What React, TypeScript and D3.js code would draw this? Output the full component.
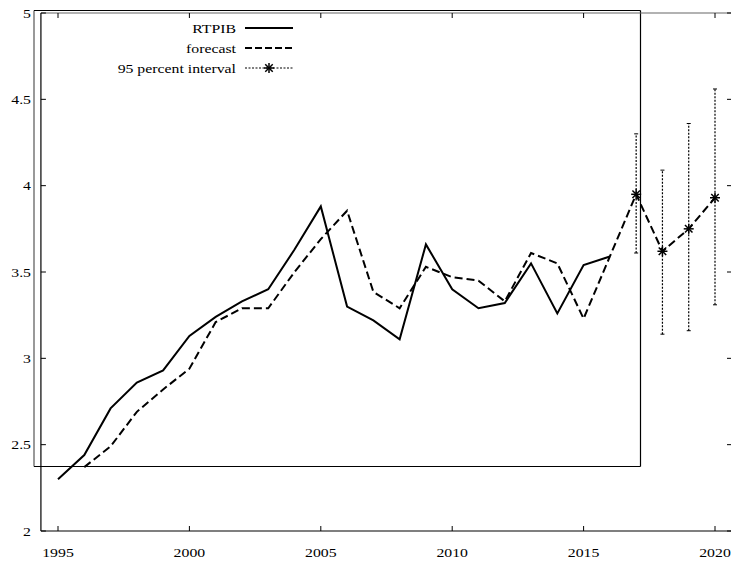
import React from 'react';
import * as d3 from 'd3';

const actualYears = [1995, 1996, 1997, 1998, 1999, 2000, 2001, 2002, 2003, 2004, 2005, 2006, 2007, 2008, 2009, 2010, 2011, 2012, 2013, 2014, 2015, 2016];
const actualValues = [2.30, 2.44, 2.71, 2.86, 2.93, 3.13, 3.24, 3.33, 3.40, 3.63, 3.88, 3.30, 3.22, 3.11, 3.66, 3.40, 3.29, 3.32, 3.55, 3.26, 3.54, 3.59];

const forecastYears = [1996, 1997, 1998, 1999, 2000, 2001, 2002, 2003, 2004, 2005, 2006, 2007, 2008, 2009, 2010, 2011, 2012, 2013, 2014, 2015, 2016, 2017, 2018, 2019, 2020];
const forecastValues = [2.37, 2.49, 2.69, 2.82, 2.94, 3.21, 3.29, 3.29, 3.50, 3.69, 3.855, 3.385, 3.29, 3.53, 3.47, 3.45, 3.33, 3.61, 3.55, 3.23, 3.59, 3.95, 3.62, 3.75, 3.93];

const intervalYears = [2017, 2018, 2019, 2020];
const intervalLow = [3.61, 3.14, 3.16, 3.31];
const intervalHigh = [4.30, 4.09, 4.36, 4.56];

const xTicks = [1995, 2000, 2005, 2010, 2015, 2020];
const yTicks = [2, 2.5, 3, 3.5, 4, 4.5, 5];

const W = 731;
const H = 562;
const FONT = '"Liberation Serif", "Times New Roman", serif';
const STRETCH = 1.17;

const x = d3.scaleLinear().domain([1995, 2020]).range([58, 715]);
const y = d3.scaleLinear().domain([2, 5]).range([531, 13]);

// plot frame
const left = x(1994.35);
const right = 732;
const top = y(5);
const bottom = y(2);

// the extra box gnuplot left behind
const box = { x0: 34, y0: 10.5, x1: 640.5, y1: 466.5 };

const Label = ({ x: lx, y: ly, anchor, children }: { x: number; y: number; anchor: string; children: React.ReactNode }) => (
  <text
    transform={`translate(${lx},${ly}) scale(${STRETCH},1)`}
    textAnchor={anchor}
    fontFamily={FONT}
    fontSize={13.5}
    fill="#000"
  >
    {children}
  </text>
);

const Star = ({ cx, cy }: { cx: number; cy: number }) => {
  const r = 5;
  const d = r * 0.75;
  return (
    <g stroke="#000" strokeWidth={1.5}>
      <line x1={cx - r} y1={cy} x2={cx + r} y2={cy} />
      <line x1={cx} y1={cy - r} x2={cx} y2={cy + r} />
      <line x1={cx - d} y1={cy - d} x2={cx + d} y2={cy + d} />
      <line x1={cx - d} y1={cy + d} x2={cx + d} y2={cy - d} />
    </g>
  );
};

export default function App() {
  const line = d3.line<[number, number]>()
    .x(d => x(d[0]))
    .y(d => y(d[1]));

  const actualPath = line(actualYears.map((yr, i) => [yr, actualValues[i]] as [number, number])) || '';
  const forecastPath = line(forecastYears.map((yr, i) => [yr, forecastValues[i]] as [number, number])) || '';

  const legendRows = [28, 48, 68];
  const legTextX = 236;
  const legX0 = 245;
  const legX1 = 293;

  return (
    <svg width={W} height={H} style={{ position: 'absolute', left: 0, top: 0, background: '#fff' }}>
      <rect x={0} y={0} width={W} height={H} fill="#fff" />

      {/* leftover box */}
      <line x1={box.x0} y1={box.y0} x2={box.x0} y2={box.y1} stroke="#777" strokeWidth={1.5} />
      <line x1={box.x0} y1={box.y0} x2={box.x1} y2={box.y0} stroke="#000" strokeWidth={1} />
      <line x1={box.x1} y1={box.y0} x2={box.x1} y2={box.y1} stroke="#000" strokeWidth={1.2} />
      <line x1={box.x0} y1={box.y1} x2={box.x1} y2={box.y1} stroke="#000" strokeWidth={1.2} />

      {/* frame */}
      <line x1={left} y1={top} x2={right} y2={top} stroke="#666" strokeWidth={1.2} />
      <line x1={left} y1={top} x2={left} y2={bottom} stroke="#000" strokeWidth={1.2} />
      <line x1={left} y1={bottom} x2={right} y2={bottom} stroke="#000" strokeWidth={1.2} />
      <line x1={right} y1={top} x2={right} y2={bottom} stroke="#000" strokeWidth={1.2} />

      {/* x ticks */}
      {xTicks.map(t => (
        <g key={`xt${t}`}>
          <line x1={x(t)} y1={bottom} x2={x(t)} y2={bottom - 5} stroke="#000" strokeWidth={1} />
          <line x1={x(t)} y1={top} x2={x(t)} y2={top + 5} stroke="#000" strokeWidth={1} />
          <Label x={x(t)} y={557} anchor="middle">{t}</Label>
        </g>
      ))}

      {/* y ticks */}
      {yTicks.map(t => (
        <g key={`yt${t}`}>
          <line x1={left} y1={y(t)} x2={left + 5} y2={y(t)} stroke="#000" strokeWidth={1} />
          <line x1={right} y1={y(t)} x2={right - 5} y2={y(t)} stroke="#000" strokeWidth={1} />
          <Label x={31} y={y(t) + 4.5} anchor="end">{t}</Label>
        </g>
      ))}

      {/* series */}
      <path d={actualPath} fill="none" stroke="#000" strokeWidth={2} strokeLinejoin="miter" />
      <path d={forecastPath} fill="none" stroke="#000" strokeWidth={2} strokeDasharray="8,4" />

      {/* 95 percent interval */}
      {intervalYears.map((yr, i) => (
        <g key={`ci${yr}`}>
          <line x1={x(yr)} y1={y(intervalLow[i])} x2={x(yr)} y2={y(intervalHigh[i])} stroke="#000" strokeWidth={1.2} strokeDasharray="2,1.5" />
          <line x1={x(yr) - 2} y1={y(intervalLow[i])} x2={x(yr) + 2} y2={y(intervalLow[i])} stroke="#000" strokeWidth={1} />
          <line x1={x(yr) - 2} y1={y(intervalHigh[i])} x2={x(yr) + 2} y2={y(intervalHigh[i])} stroke="#000" strokeWidth={1} />
          <Star cx={x(yr)} cy={y(forecastValues[forecastYears.indexOf(yr)])} />
        </g>
      ))}

      {/* legend */}
      <Label x={legTextX} y={legendRows[0] + 5} anchor="end">RTPIB</Label>
      <line x1={legX0} y1={legendRows[0]} x2={legX1} y2={legendRows[0]} stroke="#000" strokeWidth={2} />
      <Label x={legTextX} y={legendRows[1] + 5} anchor="end">forecast</Label>
      <line x1={legX0} y1={legendRows[1]} x2={legX1} y2={legendRows[1]} stroke="#000" strokeWidth={2} strokeDasharray="7,3" />
      <Label x={legTextX} y={legendRows[2] + 5} anchor="end">95 percent interval</Label>
      <line x1={legX0} y1={legendRows[2]} x2={legX1} y2={legendRows[2]} stroke="#000" strokeWidth={1.2} strokeDasharray="2,1.5" />
      <Star cx={(legX0 + legX1) / 2} cy={legendRows[2]} />
    </svg>
  );
}
